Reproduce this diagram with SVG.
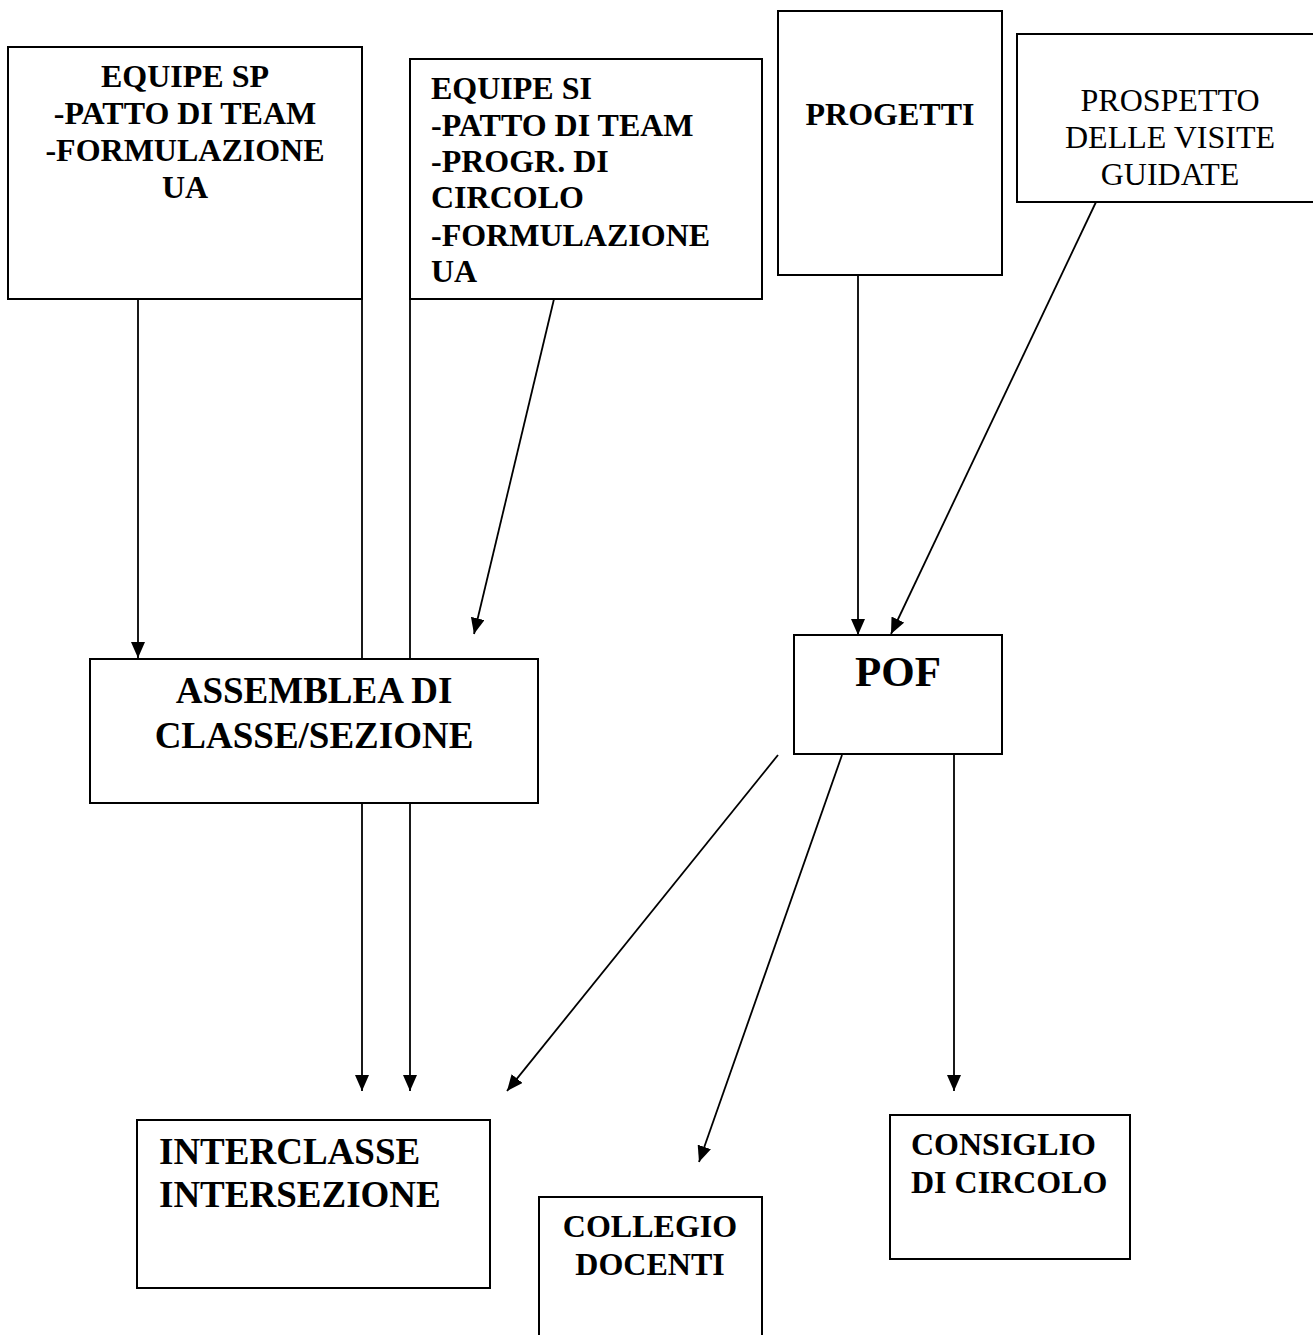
<svg xmlns="http://www.w3.org/2000/svg" width="1313" height="1335" viewBox="0 0 1313 1335">
<style>
.box{fill:#fff;stroke:#000;stroke-width:2}
.t{font-family:"Liberation Serif","Times New Roman",serif;fill:#000}
.b{font-weight:bold}
.c{text-anchor:middle}
.f32{font-size:32px}
.f37{font-size:37px}
.f43{font-size:43px}
.ln{stroke:#000;stroke-width:1.8;fill:none}
.ar{stroke:#000;stroke-width:1.8;fill:none;marker-end:url(#ah)}
</style>
<defs>
<marker id="ah" markerUnits="userSpaceOnUse" markerWidth="16" markerHeight="14" refX="16" refY="7" orient="auto">
<path d="M0,0 L16,7 L0,14 z" fill="#000"/>
</marker>
</defs>
<rect width="1313" height="1335" fill="#fff"/>

<g id="equipe-sp">
<rect class="box" x="8" y="47" width="354" height="252"/>
<text class="t b c f32" x="185" y="87">EQUIPE SP</text>
<text class="t b c f32" x="185" y="124">-PATTO DI TEAM</text>
<text class="t b c f32" x="185" y="161">-FORMULAZIONE</text>
<text class="t b c f32" x="185" y="198">UA</text>
</g>

<g id="equipe-si">
<rect class="box" x="410" y="59" width="352" height="240"/>
<text class="t b f32" x="431" y="99">EQUIPE SI</text>
<text class="t b f32" x="431" y="136">-PATTO DI TEAM</text>
<text class="t b f32" x="431" y="172">-PROGR. DI</text>
<text class="t b f32" x="431" y="208">CIRCOLO</text>
<text class="t b f32" x="431" y="246">-FORMULAZIONE</text>
<text class="t b f32" x="431" y="282">UA</text>
</g>

<g id="progetti">
<rect class="box" x="778" y="11" width="224" height="264"/>
<text class="t b c f32" x="890" y="125">PROGETTI</text>
</g>

<g id="prospetto">
<rect class="box" x="1017" y="34" width="306" height="168"/>
<text class="t c f32" x="1170" y="111">PROSPETTO</text>
<text class="t c f32" x="1170" y="148">DELLE VISITE</text>
<text class="t c f32" x="1170" y="185">GUIDATE</text>
</g>

<g id="assemblea">
<rect class="box" x="90" y="659" width="448" height="144"/>
<text class="t b c f37" x="314" y="703">ASSEMBLEA DI</text>
<text class="t b c f37" x="314" y="748">CLASSE/SEZIONE</text>
</g>

<g id="pof">
<rect class="box" x="794" y="635" width="208" height="119"/>
<text class="t b c f43" x="898" y="686">POF</text>
</g>

<g id="interclasse">
<rect class="box" x="137" y="1120" width="353" height="168"/>
<text class="t b f37" x="159" y="1164">INTERCLASSE</text>
<text class="t b f37" x="159" y="1207">INTERSEZIONE</text>
</g>

<g id="collegio">
<rect class="box" x="539" y="1197" width="223" height="150"/>
<text class="t b c f32" x="650" y="1237">COLLEGIO</text>
<text class="t b c f32" x="650" y="1275">DOCENTI</text>
</g>

<g id="consiglio">
<rect class="box" x="890" y="1115" width="240" height="144"/>
<text class="t b f32" x="911" y="1155">CONSIGLIO</text>
<text class="t b f32" x="911" y="1193">DI CIRCOLO</text>
</g>

<g id="connectors">
<line class="ar" x1="138" y1="299" x2="138" y2="658"/>
<line class="ln" x1="362" y1="299" x2="362" y2="659"/>
<line class="ln" x1="410" y1="299" x2="410" y2="659"/>
<line class="ar" x1="554" y1="299" x2="474" y2="634"/>
<line class="ar" x1="858" y1="275" x2="858" y2="635"/>
<line class="ar" x1="1096" y1="202" x2="891" y2="634"/>
<line class="ar" x1="362" y1="803" x2="362" y2="1091"/>
<line class="ar" x1="410" y1="803" x2="410" y2="1091"/>
<line class="ar" x1="778" y1="755" x2="507" y2="1091"/>
<line class="ar" x1="842" y1="755" x2="699" y2="1162"/>
<line class="ar" x1="954" y1="755" x2="954" y2="1091"/>
</g>
</svg>
